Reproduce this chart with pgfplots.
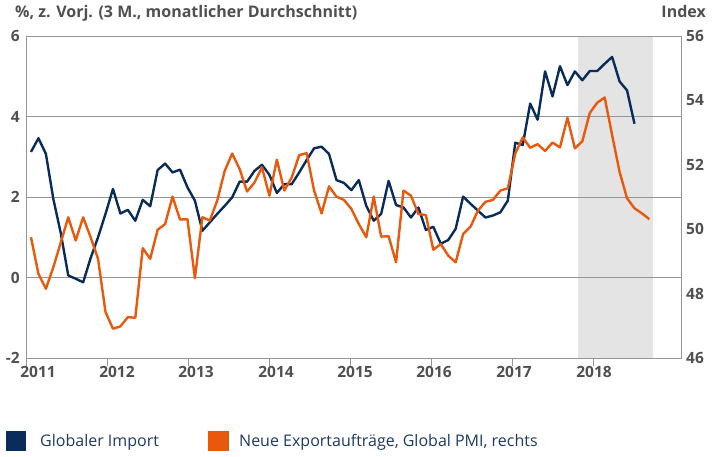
\documentclass[border=0pt]{standalone}
\usepackage{fontspec}
\setmainfont{Open Sans}
\usepackage{pgfplots}
\pgfplotsset{compat=1.18}
\definecolor{navy}{HTML}{0A2C5A}
\definecolor{orng}{HTML}{E9590C}
\definecolor{shade}{HTML}{E4E4E4}
\definecolor{gridgray}{HTML}{969696}
\definecolor{labgray}{HTML}{505050}
\definecolor{legtext}{HTML}{1E3A63}
\pgfplotsset{base/.style={at={(26pt,99pt)}, anchor=south west, scale only axis,
  width=655.5pt, height=322pt, xmin=0.329, xmax=88.31}}
\begin{document}
\begin{tikzpicture}
\path[use as bounding box] (0pt,0pt) rectangle (718pt,457pt);
% shaded period
\begin{axis}[base, ymin=-2, ymax=6, axis lines=none, ticks=none]
\addplot[draw=none, fill=shade] coordinates {(74.42,-2) (84.42,-2) (84.42,6) (74.42,6)} -- cycle;
\end{axis}
% left axis: Globaler Import
\begin{axis}[base, ymin=-2, ymax=6,
  ytick={-2,0,2,4,6}, yticklabels={-2,0,2,4,6},
  ymajorgrids, grid style={gridgray, line width=0.9pt},
  axis line style={gridgray, line width=0.9pt},
  tick align=outside, major tick length=8pt,
  ytick style={draw=none},
  xtick={1.94,12.54,23.15,33.89,44.49,55.09,65.83,76.57},
  xticklabels={2011,2012,2013,2014,2015,2016,2017,2018},
  xtick style={draw=none},
  tick label style={font=\fontsize{15.5}{18}\selectfont\bfseries, text=labgray, inner sep=0pt},
  yticklabel style={xshift=2pt},
]
\addplot[navy, line width=2.4pt, line join=round] coordinates {
(1,3.12)(2,3.46)(3,3.07)(4,1.95)(5,1.10)(6,0.05)(7,-0.03)(8,-0.12)(9,0.48)(10,1.00)
(11,1.58)(12,2.20)(13,1.59)(14,1.68)(15,1.41)(16,1.93)(17,1.77)(18,2.67)(19,2.83)(20,2.61)
(21,2.68)(22,2.24)(23,1.91)(24,1.16)(25,1.37)(26,1.58)(27,1.78)(28,1.99)(29,2.38)(30,2.38)
(31,2.65)(32,2.80)(33,2.55)(34,2.10)(35,2.32)(36,2.32)(37,2.61)(38,2.92)(39,3.21)(40,3.25)
(41,3.07)(42,2.42)(43,2.35)(44,2.17)(45,2.42)(46,1.78)(47,1.41)(48,1.58)(49,2.40)(50,1.80)
(51,1.74)(52,1.49)(53,1.74)(54,1.18)(55,1.26)(56,0.84)(57,0.93)(58,1.21)(59,2.01)(60,1.83)
(61,1.66)(62,1.49)(63,1.54)(64,1.62)(65,1.91)(66,3.35)(67,3.29)(68,4.32)(69,3.92)(70,5.12)
(71,4.50)(72,5.25)(73,4.78)(74,5.12)(75,4.90)(76,5.13)(77,5.13)(78,5.31)(79,5.48)(80,4.87)
(81,4.65)(82,3.82)};
\end{axis}
% right axis: PMI
\begin{axis}[base, ymin=46, ymax=56,
  axis y line*=right, axis x line=none,
  ytick={46,48,50,52,54,56}, yticklabels={46,48,50,52,54,56},
  axis line style={gridgray, line width=0.9pt, -},
  tick align=outside, major tick length=8pt,
  ytick style={draw=none},
  tick label style={font=\fontsize{15.5}{18}\selectfont\bfseries, text=labgray, inner sep=0pt},
  yticklabel style={xshift=-3.5pt},
]
\addplot[orng, line width=2.4pt, line join=round] coordinates {
(1,49.75)(2,48.61)(3,48.15)(4,48.82)(5,49.59)(6,50.37)(7,49.65)(8,50.37)(9,49.75)(10,49.08)
(11,47.43)(12,46.91)(13,46.98)(14,47.27)(15,47.25)(16,49.41)(17,49.08)(18,49.98)(19,50.16)(20,51.01)
(21,50.30)(22,50.31)(23,48.48)(24,50.37)(25,50.27)(26,50.89)(27,51.81)(28,52.35)(29,51.87)(30,51.17)
(31,51.45)(32,51.92)(33,51.04)(34,52.16)(35,51.20)(36,51.61)(37,52.30)(38,52.36)(39,51.20)(40,50.49)
(41,51.33)(42,51.01)(43,50.91)(44,50.63)(45,50.16)(46,49.75)(47,51.01)(48,49.77)(49,49.78)(50,48.97)
(51,51.20)(52,51.04)(53,50.47)(54,50.44)(55,49.36)(56,49.54)(57,49.18)(58,48.97)(59,49.85)(60,50.08)
(61,50.58)(62,50.85)(63,50.91)(64,51.20)(65,51.27)(66,52.35)(67,52.85)(68,52.53)(69,52.64)(70,52.43)
(71,52.69)(72,52.54)(73,53.46)(74,52.51)(75,52.73)(76,53.61)(77,53.93)(78,54.09)(79,52.92)(80,51.78)
(81,50.96)(82,50.65)(83,50.49)(84,50.31)};
\end{axis}
% year tick marks below the x axis
\foreach \tx in {26,107,188,269,350,431,512,593}
  \draw[gridgray, line width=0.9pt] (\tx pt,99pt) -- (\tx pt,91pt);
% titles
\node[anchor=base west, inner sep=0pt, text=labgray, font=\fontsize{16}{19}\selectfont\bfseries] at (15pt,439pt) {\%, z. Vorj. (3 M., monatlicher Durchschnitt)};
\node[anchor=base east, inner sep=0pt, text=labgray, font=\fontsize{16}{19}\selectfont\bfseries] at (706pt,439pt) {Index};
% legend
\fill[navy] (6pt,6pt) rectangle (26pt,26pt);
\node[anchor=base west, inner sep=0pt, text=legtext, font=\fontsize{16}{19}\selectfont] at (40pt,10.5pt) {Globaler Import};
\fill[orng] (208pt,6pt) rectangle (229pt,26pt);
\node[anchor=base west, inner sep=0pt, text=legtext, font=\fontsize{16}{19}\selectfont] at (239pt,10.5pt) {Neue Exportaufträge, Global PMI, rechts};
\end{tikzpicture}
\end{document}
